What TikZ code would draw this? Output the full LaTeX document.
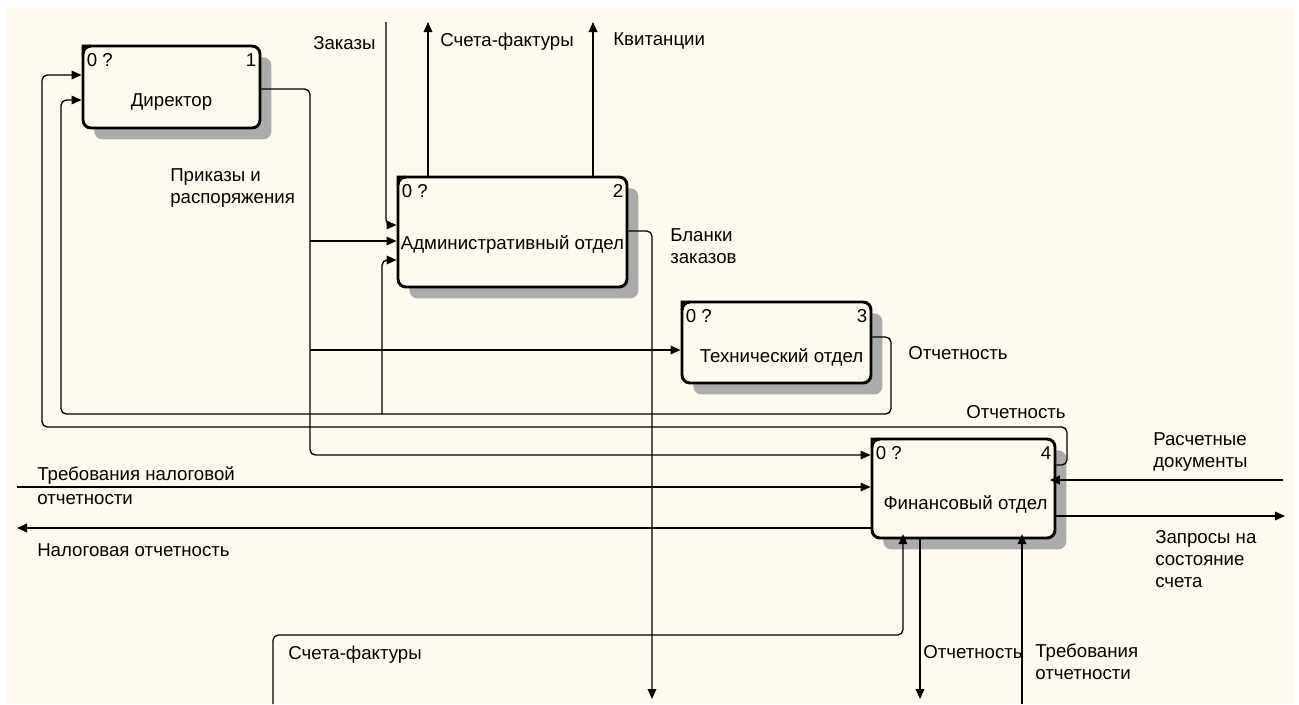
\documentclass[tikz,border=0pt]{standalone}
\usepackage{fontspec}
\setmainfont{Liberation Sans}
\usetikzlibrary{arrows.meta,shadows}
\definecolor{paper}{RGB}{255,250,240}

\begin{document}
\begin{tikzpicture}[x=0.75pt,y=-0.75pt,
  every node/.style={font=\fontsize{14}{16.5}\selectfont, text=black},
  proc/.style={draw, line width=2.2pt, rounded corners=6pt, fill=paper, inner sep=0pt,
    drop shadow={shadow xshift=8.5pt, shadow yshift=-8.5pt, opacity=1, fill=black!33}},
  title/.style={inner sep=0pt},
  corner/.style={inner sep=0pt},
  lbl/.style={anchor=west, inner sep=0pt, align=left},
  flow/.style={line width=1pt, rounded corners=4pt},
  arr/.style={flow, -{Triangle[length=7.5pt,width=6.5pt]}},
]
% page and sheet
\useasboundingbox (0,0) rectangle (1299,704);
\fill[white] (0,0) rectangle (1299,704);
\fill[paper] (7,8) rectangle (1293,704);

% activity boxes
\node[proc, minimum width=132.75pt, minimum height=61.5pt] (b1) at (171.5,87) {};
\node[proc, minimum width=171.75pt, minimum height=82.5pt] (b2) at (512.5,232) {};
\node[proc, minimum width=141.75pt, minimum height=60.75pt] (b3) at (776.5,342.5) {};
\node[proc, minimum width=137.25pt, minimum height=74.25pt] (b4) at (963.5,488.5) {};

\node[title] (t1) at ([shift={(0,15)}]b1.center) {Директор};
\node[title] (t2) at ([shift={(0,13)}]b2.center) {Административный отдел};
\node[title] (t3) at ([shift={(5,15)}]b3.center) {Технический отдел};
\node[title] (t4) at ([shift={(2,16)}]b4.center) {Финансовый отдел};

\foreach \b/\n in {b1/1,b2/2,b3/3,b4/4}{
  % squared-off top-left corner of the box frame
  \fill ([shift={(0,9)}]\b.north west) |- ([shift={(9,0)}]\b.north west)
    -- ([shift={(9,3)}]\b.north west) .. controls ([shift={(3,3)}]\b.north west) .. ([shift={(3,9)}]\b.north west) -- cycle;
  \node[corner, anchor=north west] (\b z) at ([shift={(5,9)}]\b.north west) {0 ?};
  \node[corner, anchor=north east] (\b n) at ([shift={(-5,9)}]\b.north east) {\n};
}

% free ends
\coordinate (zk) at (386,22);
\coordinate (sf) at (428,22);
\coordinate (kv) at (593,22);
\coordinate (bz) at (652,699);
\coordinate (tn) at (17,487);
\coordinate (no) at (17,528);
\coordinate (rd) at (1283,480);
\coordinate (zs) at (1285,516);
\coordinate (sfb) at (273,704);
\coordinate (ob) at (920,699);
\coordinate (to) at (1022,704);

% orders from the director
\draw[arr] (b1.east |- 0,89) -- (310,89) -- (310,455) -- (b4.west |- 0,455);
\draw[arr] (310,241) -- (b2.west |- 0,241);
\draw[arr] (310,350) -- (b3.west |- 0,350);

% reports back to the director
\draw[arr] (b3.east |- 0,337) -- (891,337) -- (891,414) -- (61,414) -- (61,100) -- (b1.west |- 0,100);
\draw[arr] (382,414) -- (382,260) -- (b2.west |- 0,260);
\draw[arr] (b4.east |- 0,465) -- (1067,465) -- (1067,427) -- (42,427) -- (42,75) -- (b1.west |- 0,75);

% administrative department
\draw[arr] (zk) -- (386,225) -- (b2.west |- 0,225);
\draw[arr] (b2.north -| sf) -- (sf);
\draw[arr] (b2.north -| kv) -- (kv);
\draw[arr] (b2.east |- 0,231) -- (652,231) -- (bz);

% financial department
\draw[arr] (tn) -- (b4.west |- tn);
\draw[arr] (b4.west |- no) -- (no);
\draw[arr, shorten >=-5pt] (rd) -- (b4.east |- rd);
\draw[arr] (b4.east |- zs) -- (zs);
\draw[arr, shorten >=-4pt] (sfb) -- (273,635) -- (903,635) -- (b4.south -| 903,0);
\draw[arr] (b4.south -| ob) -- (ob);
\draw[arr, shorten >=-4pt] (to) -- (b4.south -| to);

% arrow labels
\node[lbl] (l1) at (313,43) {Заказы};
\node[lbl] (l2) at (440,42) {Счета-фактуры};
\node[lbl] (l3) at (613,41) {Квитанции};
\node[lbl] (l4) at (170,188) {Приказы и\\распоряжения};
\node[lbl] (l5) at (670,246) {Бланки\\заказов};
\node[lbl] (l6) at (908,353) {Отчетность};
\node[lbl] (l7) at (966,412) {Отчетность};
\node[lbl] (l8) at (1153,452) {Расчетные\\документы};
\node[lbl] (l9) at (1155,559) {Запросы на\\состояние\\счета};
\node[lbl] (l10) at (37,486) {Требования налоговой\\[1.5pt]отчетности};
\node[lbl] (l11) at (37,550) {Налоговая отчетность};
\node[lbl] (l12) at (288,655) {Счета-фактуры};
\node[lbl] (l13) at (923,652) {Отчетность};
\node[lbl] (l14) at (1035,662) {Требования\\отчетности};
\end{tikzpicture}
\end{document}
